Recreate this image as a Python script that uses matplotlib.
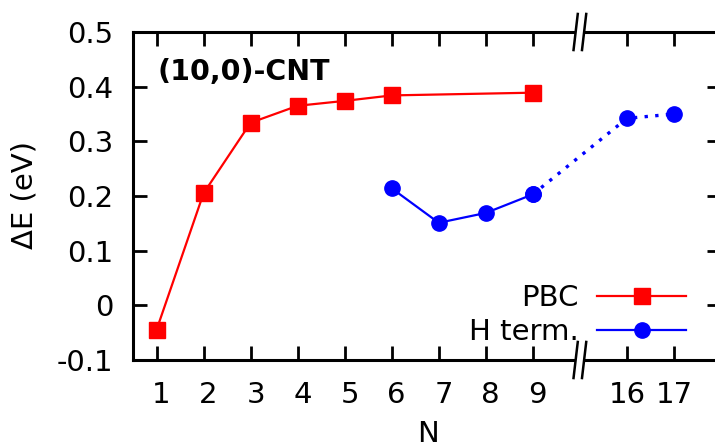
import matplotlib
matplotlib.use("Agg")
import matplotlib.pyplot as plt
import matplotlib.transforms as mtransforms

# data
n_pbc = [1, 2, 3, 4, 5, 6, 9]
de_pbc = [-0.045, 0.205, 0.334, 0.365, 0.374, 0.384, 0.389]

n_h = [6, 7, 8, 9, 16, 17]
de_h = [0.214, 0.151, 0.169, 0.203, 0.342, 0.350]

tick_n = [1, 2, 3, 4, 5, 6, 7, 8, 9, 16, 17]
y_ticks = [-0.1, 0, 0.1, 0.2, 0.3, 0.4, 0.5]
y_ticklabels = ["-0.1", "0", "0.1", "0.2", "0.3", "0.4", "0.5"]


def xpos(n):
    # broken axis: 16,17 sit right after the break
    return n if n <= 9 else n - 5


plt.rcParams['font.family'] = 'DejaVu Sans'
fs = 21
fig = plt.figure(figsize=(7.15, 4.43), dpi=100)
W, H = 715, 443
ax = fig.add_axes([133 / W, (H - 360) / H, (721 - 133) / W, (360 - 32) / H])

red = '#ff0000'
blue = '#0000ff'

xp = [xpos(n) for n in n_pbc]
ax.plot(xp, de_pbc, color=red, lw=1.6, marker='s', ms=11, label='PBC', zorder=3)

xh = [xpos(n) for n in n_h]
ax.plot(xh[:4], de_h[:4], color=blue, lw=1.6, marker='o', ms=11, label='H term.', zorder=3)
ax.plot(xh[3:], de_h[3:], color=blue, lw=2.4, ls=(0, (1, 2.2)), marker='o', ms=11, zorder=3)

ax.set_xlim(0.5, 13)
ax.set_ylim(-0.1, 0.5)
ax.set_xticks([xpos(n) for n in tick_n])
ax.set_xticklabels([str(n) for n in tick_n])
ax.set_yticks(y_ticks)
ax.set_yticklabels(y_ticklabels)

ax.tick_params(direction='in', length=10, width=2, labelsize=fs,
               top=True, right=True)
ax.tick_params(axis='x', pad=15)
ax.tick_params(axis='y', pad=14)
for sp in ax.spines.values():
    sp.set_linewidth(2.2)

# single-digit labels sit a bit to the right in the original
off = mtransforms.ScaledTranslation(5 / 100, 0, fig.dpi_scale_trans)
for lab, n in zip(ax.get_xticklabels(), tick_n):
    if n < 10:
        lab.set_transform(lab.get_transform() + off)

# axis break marks
bt = mtransforms.blended_transform_factory(ax.transData, ax.transAxes)
for yb in (0, 1):
    ax.fill_between([9.91, 10.09], yb - 0.012, yb + 0.012, color='white',
                    transform=bt, clip_on=False, zorder=5, lw=0)
    for xc in (9.91, 10.09):
        ax.plot([xc - 0.045, xc + 0.045], [yb - 0.055, yb + 0.055], color='black',
                lw=1.8, transform=bt, clip_on=False, zorder=6)

ax.text(1.02, 0.412, '(10,0)-CNT', fontsize=20.5, fontweight='bold',
        ha='left', va='baseline')

ax.legend(loc='lower right', bbox_to_anchor=(0.9405, 0.042), frameon=False,
          markerfirst=False, fontsize=fs, handlelength=3.05, handletextpad=0.62,
          labelspacing=0.2, borderpad=0, borderaxespad=0, numpoints=1)

fig.text(25 / W, 1 - 195 / H, 'ΔE (eV)', rotation=90, fontsize=fs,
         ha='center', va='center')
fig.text(428 / W, 1 - 420 / H, 'N', fontsize=fs, ha='center', va='top')

fig.savefig('out.png', dpi=100)
